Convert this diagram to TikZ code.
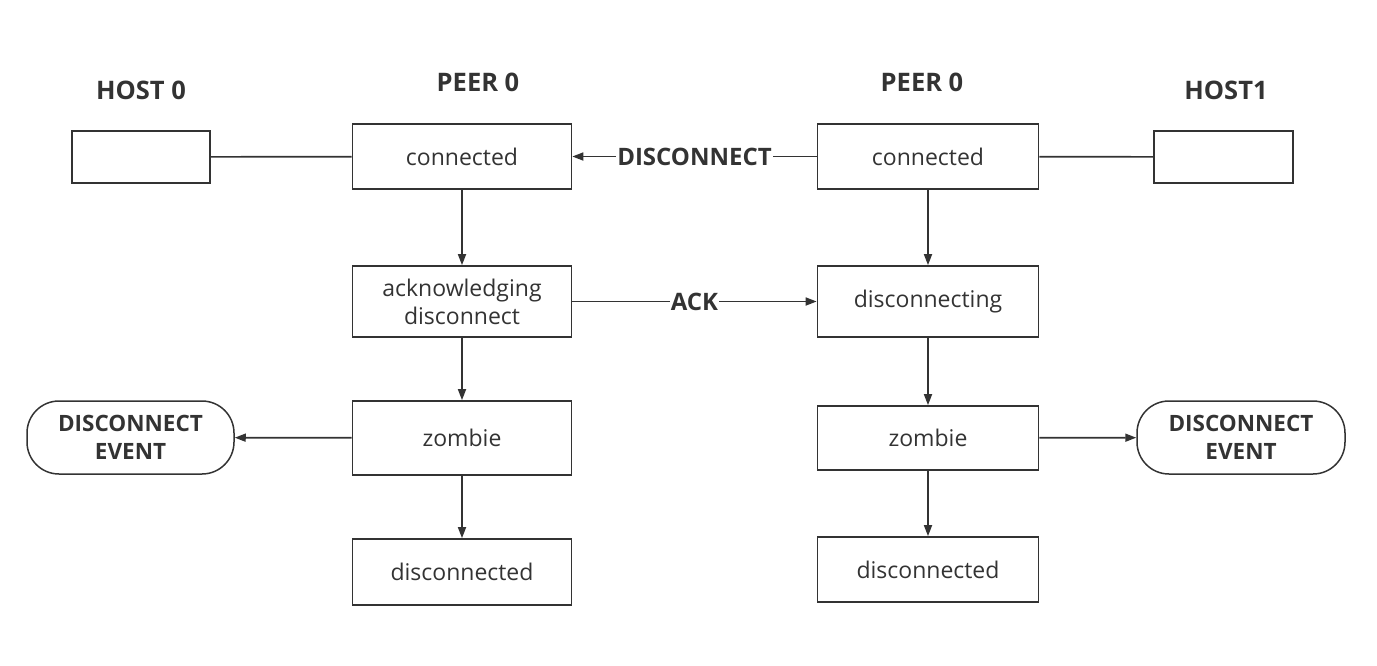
\documentclass[tikz,border=0pt]{standalone}
\usepackage{fontspec}
\setmainfont{Open Sans}
\usetikzlibrary{arrows.meta}
\definecolor{ink}{HTML}{333333}
\tikzset{
  every node/.style={text=ink},
  state/.style={draw=ink, line width=1.7pt, rectangle, inner sep=0pt, align=center, font=\fontsize{23}{28}\selectfont},
  evt/.style={draw=ink, line width=1.5pt, rectangle, rounded corners=32pt, inner sep=0pt, align=center, font=\fontsize{22.5}{28}\selectfont\bfseries},
  ttl/.style={font=\fontsize{25.5}{30}\selectfont\bfseries},
  lbl/.style={font=\fontsize{24}{28}\selectfont\bfseries, fill=white, inner sep=1pt},
  conn/.style={draw=ink, line width=1.7pt},
  arr/.style={conn, -{Stealth[length=11pt,width=8pt,inset=0pt]}},
}
\begin{document}
\begin{tikzpicture}[x=1pt,y=-1pt]
\useasboundingbox (0,0) rectangle (1377,665);
% titles
\node[ttl] (t1) at (141,90) {HOST 0};
\node[ttl] (t2) at (478,82) {PEER 0};
\node[ttl] (t3) at (922,82) {PEER 0};
\node[ttl] (t4) at (1226,90) {HOST1};
% boxes
\node[state, minimum width=138pt, minimum height=52pt] (h0) at (141,157) {};
\node[state, minimum width=219pt, minimum height=65pt] (c1) at (462,156.5) {connected};
\node[state, minimum width=219pt, minimum height=71pt] (a1) at (462,301.5) {acknowledging\\disconnect};
\node[state, minimum width=219pt, minimum height=74pt] (z1) at (462,438) {zombie};
\node[state, minimum width=219pt, minimum height=66pt] (d1) at (462,572) {disconnected};
\node[state, minimum width=221pt, minimum height=65pt] (c2) at (928,156.5) {connected};
\node[state, minimum width=221pt, minimum height=71pt] (s2) at (928,301.5) {disconnecting};
\node[state, minimum width=221pt, minimum height=64pt] (z2) at (928,438) {zombie};
\node[state, minimum width=221pt, minimum height=65pt] (d2) at (928,569.5) {disconnected};
\node[state, minimum width=139pt, minimum height=52pt] (h1) at (1223.5,157) {};
\node[evt, minimum width=207pt, minimum height=73pt] (e1) at (130.5,437.5) {DISCONNECT\\EVENT};
\node[evt, minimum width=208pt, minimum height=73pt] (e2) at (1241,437.5) {DISCONNECT\\EVENT};
% connectors
\draw[conn] (h0) -- (c1);
\draw[conn] (c2) -- (h1);
\draw[arr] (c1) -- (a1);
\draw[arr] (a1) -- (z1);
\draw[arr] (z1) -- (d1);
\draw[arr] (c2) -- (s2);
\draw[arr] (s2) -- (z2);
\draw[arr] (z2) -- (d2);
\draw[arr] (z1) -- (e1);
\draw[arr] (z2) -- (e2);
\draw[arr] (c2) -- node[lbl] {DISCONNECT} (c1);
\draw[arr] (a1) -- node[lbl] {ACK} (s2);
\end{tikzpicture}
\end{document}
